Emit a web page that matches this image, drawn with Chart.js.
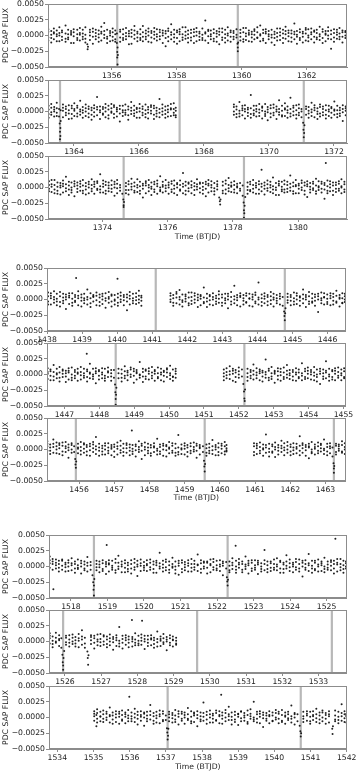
<!DOCTYPE html>
<html>
<head>
<meta charset="utf-8">
<script src="https://cdn.jsdelivr.net/npm/chart.js@4.4.0/dist/chart.umd.min.js"></script>
<style>
  body { margin: 0; background: #fff; width: 357px; height: 771px; position: relative; overflow: hidden; font-family: "DejaVu Sans", sans-serif; }
  canvas { position: absolute; left: 0; }
  .xlab { position: absolute; font-size: 7.7px; line-height: 10px; color: #222; white-space: nowrap; transform: translateX(-50%); }
</style>
</head>
<body>
<script>
// each row: [days after base BTJD, flux readings in ppt (1e-3) taken around that time...]
const base1 = 1354;
const cols1 = [[0.05,0.6,-0.3,1.0,-0.8],[0.14,-0.4,0.7,0.1,-1.1],[0.22,1.1,-0.6,0.3,0.5],[0.31,0.2,-0.9,0.8,-0.1],[0.39,-0.9,0.4,1.3,0.0],[0.47,0.8,-0.2,-0.7,0.5],[0.58,1.6,0.3,-0.5,-1.0],[0.66,-0.3,0.9,0.2,-0.6],[0.75,0.4,-1.2,0.7,0.1],[0.83,-1.2,0.5,-0.1,1.0],[0.94,0.9,-0.4,0.2,-0.7],
  [1.02,0.1,1.2,-0.8,0.4],[1.11,-0.6,0.3,0.9,-0.2],[1.19,1.3,-0.5,0.1,-1.1],[1.25,-1.4],[1.26,-2.2],[1.27,-1.8],[1.33,0.5,-0.7,0.9,0.0],[1.42,-0.2,0.6,-1.3,1.1],[1.51,0.9,-0.1,0.4,-0.6],[1.6,-1.0,0.2,0.8,-0.3],[1.68,0.3,-0.8,1.4,0.6],[1.77,2.0,-0.4,0.1,0.7],[1.86,-0.5,0.9,-0.2,-1.2],[1.95,0.7,0.0,-0.9,0.4],
  [2.03,-0.8,0.5,1.1,-0.2],[2.11,0.2,-0.6,0.8,-1.0],[2.16,-1.2,0.3],[2.17,-2.6],[2.17,-3.5],[2.18,-4.6],[2.18,-1.9],[2.19,-3.1],[2.26,0.6,-0.3,-1.0,0.9],[2.35,-0.4,1.0,0.2,-0.7],[2.44,1.2,-0.1,-0.6,0.4],[2.53,-0.1,0.7,-1.4,0.3],[2.61,-1.3,0.4,0.9,-0.2],[2.7,0.8,-0.5,0.1,1.5],[2.79,0.3,-0.9,0.6,-0.3],[2.88,-0.7,0.2,1.0,-0.4],[2.96,1.5,-0.2,0.5,-0.9],
  [3.05,-0.2,0.8,-0.6,0.3],[3.13,0.6,-1.0,0.0,1.1],[3.22,-1.1,0.4,0.7,-0.3],[3.31,0.1,-0.5,1.2,0.6],[3.39,1.0,-0.8,0.2,-0.2],[3.48,-0.6,0.5,-0.1,0.9],[3.57,0.4,-1.2,0.8,0.0],[3.66,-1.7,0.3,-0.4,0.7],[3.74,0.7,-0.2,1.1,-0.9],[3.83,1.8,0.1,-0.6,0.5],[3.92,-0.3,0.9,-1.0,0.2],
  [4.01,0.5,-0.4,0.8,-1.3],[4.09,-0.9,0.6,0.2,1.0],[4.18,0.2,-0.7,1.3,-0.3],[4.27,1.3,0.0,-0.5,0.6],[4.35,-0.4,0.8,-1.1,0.2],[4.44,0.9,-0.3,0.4,-0.8],[4.53,-1.2,0.5,1.0,-0.1],[4.61,0.0,-0.9,0.6,1.2],[4.7,0.6,-0.2,-0.7,0.3],[4.79,-0.7,1.1,0.1,-0.4],[4.88,2.4,0.3,-0.8,0.5],[4.97,-0.1,0.7,-1.2,0.9],
  [5.05,0.8,-0.6,0.2,-0.1],[5.14,-0.5,1.0,0.4,-0.9],[5.23,0.3,-0.2,-1.0,0.7],[5.31,-1.4,0.6,0.1,1.1],[5.4,1.1,-0.7,0.5,-0.3],[5.49,0.2,-0.4,0.9,-1.1],[5.57,-0.8,0.3,1.3,0.0],[5.66,0.5,-1.0,-0.2,0.8],[5.75,-0.2,0.7,0.4,-0.6],[5.84,1.0,-0.3,0.1],[5.87,-1.3],[5.88,-2.5],[5.88,-1.9],[5.89,-1.1],[5.96,0.4,-0.8,0.9,-0.2],
  [6.05,-0.6,0.5,1.2,-1.0],[6.13,1.2,-0.1,0.3,-0.7],[6.22,0.1,0.8,-0.9,0.4],[6.31,-1.0,0.2,0.6,-0.3],[6.39,0.7,-0.6,1.0,0.1],[6.48,-0.3,1.3,-0.4,0.5],[6.57,1.6,-0.9,0.2,0.0],[6.66,-0.8,0.4,0.9,-0.5],[6.74,0.3,-1.2,0.6,1.0],[6.83,-0.1,0.7,-0.6,0.2],[6.92,0.9,-0.3,0.1,-1.1],
  [7.01,-1.5,0.6,0.2,-0.4],[7.09,0.4,-0.2,1.1,-0.8],[7.18,1.1,0.0,-0.7,0.5],[7.27,-0.4,0.9,0.3,-1.2],[7.35,0.2,-0.5,1.4,0.7],[7.44,-0.9,0.4,-0.1,0.8],[7.53,0.8,-1.0,0.3,-0.3],[7.62,1.9,0.2,-0.6,0.6],[7.7,-0.2,0.7,-1.3,0.1],[7.79,0.5,-0.4,1.0,-0.7],[7.88,-1.1,0.3,0.6,-0.2],[7.97,0.3,-0.8,1.2,0.9],
  [8.05,1.0,-0.3,0.0,-0.9],[8.14,-0.6,0.5,1.1,0.2],[8.23,0.6,-1.1,-0.2,0.8],[8.31,-0.3,0.4,0.9,-0.6],[8.4,1.4,-0.7,0.2,-0.1],[8.49,-1.2,0.6,-0.4,1.0],[8.58,0.1,-0.9,0.7,0.3],[8.66,0.7,0.0,-0.5,1.3],[8.75,-2.1,0.8,0.2,-0.6],[8.84,0.4,-0.3,1.0,-1.0],[8.93,-0.5,0.9,0.1,0.5],[9.01,1.2,-0.6,0.3,-0.2],[9.1,-0.2,0.5,-1.1,0.8],[9.19,0.5,-0.4,0.7,0.0]];

const base2 = 1363;
const cols2 = [[0.22,0.9,-0.4,0.3,-1.0],[0.3,-0.5,0.6,1.2,-0.1],[0.39,0.3,-0.8,0.7,0.0],[0.47,1.4,-0.2,0.5,-0.7],[0.54,-0.8,0.4],[0.56,-1.9],[0.57,-3.2],[0.57,-4.4],[0.58,-2.6],[0.58,-3.9],[0.59,-1.5,0.2],[0.66,0.6,-0.9,0.1,1.1],[0.75,-0.2,0.8,-0.6,0.4],[0.84,1.0,-0.3,-1.2,0.2],[0.93,-1.1,0.5,0.9,-0.4],
  [1.01,0.4,-0.7,1.3,0.1],[1.1,-0.3,0.9,-0.8,0.6],[1.19,1.7,0.0,-0.5,0.3],[1.27,0.2,-1.0,0.7,-0.2],[1.36,-0.7,0.5,1.1,0.0],[1.45,0.8,-0.3,-0.9,0.4],[1.54,-1.3,0.6,0.2,-0.5],[1.62,0.5,-0.1,1.0,-0.8],[1.71,2.3,0.3,-0.6,0.7],[1.8,-0.1,0.8,-1.2,0.2],[1.89,0.7,-0.5,0.4,-0.3],[1.97,-0.9,1.2,0.0,0.6],
  [2.06,0.3,-0.6,0.9,-1.1],[2.15,1.2,-0.2,0.5,0.0],[2.23,-0.4,0.7,-1.0,1.0],[2.32,0.0,-0.8,0.6,0.3],[2.41,-1.6,0.4,-0.3,0.9],[2.5,0.9,-0.1,0.2,-0.7],[2.58,0.2,1.1,-0.5,-0.2],[2.67,-0.6,0.3,0.8,-1.3],[2.76,1.5,-0.4,0.1,0.6],[2.85,-0.3,0.9,-0.7,0.2],[2.93,0.6,-1.0,0.4,-0.1],
  [3.02,-1.0,0.5,1.2,0.0],[3.11,0.4,-0.6,-0.2,0.8],[3.2,1.1,0.2,-0.9,-0.4],[3.28,-0.2,0.7,0.3,-1.1],[3.37,0.7,-0.3,1.0,0.1],[3.46,-1.2,0.5,-0.5,0.9],[3.54,0.1,-0.8,0.6,-0.3],[3.63,2.0,0.4,-0.2,-0.9],[3.72,-0.5,1.1,0.0,0.5],[3.81,0.8,-0.4,-1.0,0.2],[3.89,-0.8,0.3,0.9,-0.1],[3.98,0.3,-0.7,0.5,1.2],[4.07,1.3,-0.2,-0.6,0.4],[4.13,-0.6,0.6,0.1,-0.9],
  [5.92,0.7,-0.5,1.1,0.0],[6.0,-0.4,0.8,-0.9,0.3],[6.09,1.5,0.1,-0.3,-0.8],[6.18,0.2,-0.6,0.9,0.5],[6.26,-1.1,0.4,0.0,1.0],[6.35,0.6,-0.2,-0.7,0.3],[6.44,2.6,0.5,-0.4,-1.0],[6.53,-0.3,0.9,0.2,-0.6],[6.61,0.9,-0.8,0.4,0.0],[6.7,-0.7,0.3,1.2,-0.2],[6.79,0.1,-1.1,0.6,0.8],[6.88,1.2,-0.4,0.0,-0.7],[6.96,-1.4,0.7,0.3,-0.1],
  [7.05,0.5,-0.3,1.0,-0.9],[7.14,-0.2,0.6,-0.6,1.1],[7.23,0.8,0.0,-1.2,0.3],[7.31,1.8,-0.5,0.4,-0.1],[7.4,-0.6,0.9,0.1,-0.8],[7.49,0.3,-0.7,1.3,0.5],[7.57,-1.0,0.2,-0.2,0.8],[7.66,2.2,0.4,-0.8,-0.3],[7.75,0.0,-0.6,0.9,0.6],[7.84,-0.5,1.0,-1.1,0.2],[7.92,1.1,-0.2,0.5,-0.6],[8.0,-0.9,0.4,0.0],[8.05,-1.8],[8.06,-2.9],[8.07,-4.1],[8.07,-5.0],[8.08,-3.4],[8.09,-2.2],[8.14,0.4,-0.5,0.8],
  [8.22,-0.3,0.7,-1.0,0.1],[8.31,1.4,-0.1,0.3,-0.7],[8.4,0.2,-0.9,0.6,1.0],[8.49,-1.2,0.5,0.0,-0.4],[8.57,0.7,-0.3,1.1,-0.8],[8.66,-0.1,0.8,-0.6,0.4],[8.75,1.0,-0.5,0.2,-1.1],[8.84,-0.7,0.3,0.9,0.0],[8.92,0.5,-1.0,-0.2,0.7],[9.01,1.6,0.1,-0.5,0.3],[9.1,-0.4,0.9,-0.9,0.2],[9.18,0.2,-0.3,0.6,-0.7],[9.27,-1.5,0.4,1.0,-0.1],[9.36,0.8,-0.6,0.1,0.5]];

const base3 = 1372;
const cols3 = [[0.36,0.4,-0.6,1.0,-0.2],[0.44,-0.7,0.5,0.1,1.2],[0.53,1.2,-0.3,-0.9,0.4],[0.62,0.1,0.8,-0.5,-1.0],[0.71,-1.1,0.3,0.7,0.0],[0.79,0.6,-0.8,0.2,1.1],[0.88,1.7,-0.1,0.5,-0.6],[0.97,-0.3,0.9,-1.2,0.3],
  [1.05,0.8,-0.4,0.0,-0.8],[1.14,-1.4,0.6,1.0,0.2],[1.23,0.3,-0.7,0.8,-0.2],[1.32,1.0,0.1,-0.5,0.6],[1.4,-0.5,1.2,-0.9,0.3],[1.49,0.2,-0.3,0.7,-1.1],[1.58,-0.9,0.5,0.0,0.9],[1.67,1.3,-0.6,0.4,-0.2],[1.75,0.5,-1.0,0.9,0.1],[1.84,-0.2,0.7,-0.4,1.0],[1.93,2.1,0.2,-0.8,-0.3],
  [2.02,-0.8,0.6,0.1,1.1],[2.1,0.4,-0.5,0.9,-1.0],[2.19,-0.1,0.8,-0.6,0.3],[2.28,1.1,-0.2,0.4,-0.7],[2.37,-1.3,0.5,0.0,0.9],[2.45,0.6,-0.9,1.2,-0.1],[2.54,0.0,0.4,-0.5],[2.61,-1.0],[2.64,-1.9],[2.65,-2.8],[2.65,-3.1],[2.66,-2.3],[2.72,0.7,-0.4,0.2,-0.9],[2.8,-0.4,1.0,-1.1,0.5],[2.89,1.4,0.1,-0.3,0.6],[2.98,0.2,-0.8,0.8,-0.5],
  [3.07,-0.7,0.4,1.3,0.0],[3.15,0.9,-0.5,0.2,-1.0],[3.24,-1.6,0.3,0.6,-0.2],[3.33,0.3,-0.9,1.0,0.7],[3.42,1.2,0.0,-0.6,0.4],[3.5,-0.2,0.8,-1.2,0.1],[3.59,0.5,-0.3,0.9,-0.7],[3.68,-1.0,0.6,0.2,1.1],[3.77,1.8,-0.4,0.0,-0.6],[3.85,0.1,0.9,-0.8,0.4],[3.94,-0.6,0.3,1.2,-0.1],
  [4.03,0.8,-1.0,0.4,0.0],[4.12,-0.3,0.6,-0.7,1.0],[4.2,1.1,-0.2,0.3,-0.9],[4.29,-1.2,0.7,0.0,0.5],[4.38,0.4,-0.5,1.1,-0.3],[4.47,2.3,0.1,-0.9,0.6],[4.55,-0.5,0.9,0.3,-1.1],[4.64,0.6,-0.6,-0.1,0.8],[4.73,-0.9,0.4,1.0,0.0],[4.82,0.2,-1.2,0.7,-0.4],[4.9,1.3,-0.3,0.5,0.1],[4.99,-0.1,0.8,-0.8,0.6],
  [5.08,0.7,-0.4,0.1,-1.0],[5.17,-1.4,0.5,0.9,-0.2],[5.25,0.3,-0.8,1.2,0.6],[5.34,1.0,0.0,-0.6,0.4],[5.43,-0.6,0.7,-0.1,-1.1],[5.52,0.5,-0.3,1.0,0.2],[5.58,-1.6],[5.6,-2.2],[5.61,-2.7],[5.62,-1.9],[5.69,0.9,-0.5,0.3,-0.9],[5.78,-0.3,0.6,-1.0,1.1],[5.87,1.5,-0.1,0.4,-0.6],[5.95,0.1,0.8,-0.7,0.3],
  [6.04,-0.8,0.4,1.0,-0.3],[6.13,0.6,-0.9,0.2,0.0],[6.22,-0.2,0.7,-0.5],[6.3,-1.3,0.3],[6.33,-2.4],[6.34,-3.6],[6.34,-4.8],[6.35,-4.1],[6.36,-2.9],[6.38,-1.5],[6.45,0.8,-0.4,0.1,-1.0],[6.53,-0.4,0.9,0.5,-0.6],[6.62,1.2,-0.2,-0.8,0.4],[6.71,0.3,-1.0,0.7,0.0],[6.8,-1.0,0.5,-0.3,1.0],[6.88,2.8,0.1,-0.6,0.6],[6.97,-0.2,0.8,-1.1,0.3],
  [7.06,0.5,-0.5,1.1,-0.1],[7.15,-0.7,0.4,0.0,0.9],[7.23,1.6,-0.3,-0.9,0.2],[7.32,0.0,0.7,-0.4,-1.2],[7.41,-1.2,0.6,0.3,1.0],[7.5,0.9,-0.6,0.1,-0.3],[7.58,-0.3,1.1,-0.8,0.5],[7.67,0.4,-0.2,0.9,-0.7],[7.76,1.9,0.0,-0.5,0.6],[7.85,-0.6,0.8,0.2,-1.0],[7.93,0.2,-0.9,1.2,0.4],
  [8.02,-0.9,0.3,0.6,-0.2],[8.11,1.1,-0.4,0.0,0.7],[8.2,0.3,-1.1,0.8,-0.5],[8.28,-1.5,0.5,0.2,1.0],[8.37,0.7,-0.3,-0.8,0.1],[8.46,-0.1,0.9,-0.4,0.6],[8.55,1.4,-0.6,0.3,-1.0],[8.63,-0.4,0.2,1.0,0.0],[8.72,0.6,-0.8,-0.2,0.9],[8.81,-1.8,0.4,0.7,-0.3],[8.85,3.9],[8.9,0.2,-0.5,1.1,-0.9],[8.98,1.0,0.0,-0.6,0.5],[9.07,-0.5,0.8,0.3,-1.2],[9.16,0.8,-0.2,-0.7,0.4],[9.25,-0.2,0.6,1.0,-0.5],[9.33,1.3,-0.9,0.2,0.0],[9.42,-0.7,0.5,0.9,-0.3]];

const base4 = 1438;
const cols4 = [[0.03,0.5,-0.3,1.1,-0.8],[0.11,-0.8,0.6,0.2,1.0],[0.2,1.3,-0.5,0.0,0.4],[0.28,0.1,0.9,-0.9,-0.3],[0.37,-0.4,0.5,1.2,-1.1],[0.46,0.9,-0.2,0.3,-0.6],[0.54,-1.5,0.4,0.8,0.0],[0.63,0.3,-0.7,1.0,0.6],[0.72,1.0,0.1,-0.5,-1.0],[0.8,-0.2,0.7,0.4,-0.4],[0.83,3.4],[0.89,0.6,-0.9,1.3,0.2],[0.98,-1.1,0.3,-0.2,0.8],
  [1.06,0.2,-0.6,0.9,-0.1],[1.15,1.6,0.4,-0.8,0.0],[1.24,-0.6,1.0,0.2,-1.2],[1.32,0.4,-0.3,0.7,0.5],[1.41,-0.9,0.6,-0.1,1.1],[1.5,0.8,-1.0,0.3,-0.4],[1.58,0.0,0.5,-0.7,0.9],[1.67,-1.3,0.2,1.0,-0.2],[1.76,1.2,-0.5,0.4,0.1],[1.84,-0.3,0.8,-1.1,0.6],[1.93,0.7,-0.2,0.0,-0.8],
  [2.01,3.3],[2.02,-0.5,0.9,0.3,-1.0],[2.1,1.1,-0.4,0.6,0.0],[2.19,-0.1,0.7,-0.9,0.4],[2.28,-1.7,0.3,0.8,-0.3],[2.36,0.6,-0.8,1.2,0.1],[2.45,0.2,-0.2,-0.6,0.9],[2.54,-0.7,1.0,0.4,-0.1],[2.62,1.4,-0.5,0.0,0.6],[2.69,-0.2,0.6,-1.0,0.3],
  [3.52,0.6,-0.4,1.0,0.0],[3.6,-1.0,0.7,0.2,-0.5],[3.69,0.3,-0.6,0.9,1.2],[3.78,1.5,0.0,-0.8,0.4],[3.86,-0.4,0.8,-0.1,-1.1],[3.95,0.8,-0.3,0.5,0.1],
  [4.04,-0.6,1.1,-0.9,0.3],[4.12,1.1,-0.2,0.4,-0.7],[4.21,0.0,0.6,-0.5,1.0],[4.3,-1.2,0.3,0.8,-0.1],[4.38,0.5,-0.9,0.1,0.7],[4.47,1.9,-0.4,0.3,-0.6],[4.56,-0.3,0.9,-1.2,0.2],[4.64,0.7,-0.1,0.5,-0.8],[4.73,-0.9,0.4,1.0,0.0],[4.82,0.2,-0.7,0.6,-0.3],[4.9,1.3,0.1,-0.5,0.8],[4.99,-0.5,0.8,-1.0,0.3],
  [5.08,0.9,-0.6,0.2,-0.1],[5.16,-1.4,0.5,0.9,0.0],[5.25,0.4,-0.3,1.2,-0.8],[5.34,2.2,0.0,-0.6,0.5],[5.42,-0.1,0.7,-0.9,0.3],[5.51,0.6,-1.1,0.4,1.0],[5.6,-0.8,0.2,-0.2,0.7],[5.68,1.0,-0.5,0.6,-0.4],[5.77,0.1,0.9,-1.0,0.2],[5.86,-1.1,0.4,0.0,0.8],[5.94,0.7,-0.3,1.1,-0.6],
  [6.03,2.7,0.3,-0.8,0.0],[6.12,-0.4,0.8,0.2,-1.0],[6.2,0.5,-0.6,1.0,0.1],[6.29,-0.9,0.4,-0.3,0.7],[6.38,1.2,-0.1,0.5,-0.7],[6.46,0.0,0.9,-1.1,0.3],[6.55,-0.6,0.2,0.7,-0.2],[6.64,0.9,-0.8,0.1,0.5],[6.72,-1.0,0.4],[6.76,-1.9],[6.77,-2.6],[6.78,-3.3],[6.79,-2.2],[6.8,-1.4],[6.86,0.4,-0.5,0.9,-0.1],[6.95,-0.2,0.7,-0.9,0.4],
  [7.04,1.1,-0.3,0.2,-0.8],[7.12,-0.7,0.6,1.0,0.0],[7.21,0.3,-1.0,0.5,-0.2],[7.3,1.6,0.1,-0.6,0.8],[7.38,-1.2,0.4,0.0,0.7],[7.47,0.5,-0.7,1.2,-0.3],[7.56,-0.3,0.9,-0.5,0.2],[7.64,0.8,-0.2,0.4,-1.0],[7.73,-2.0,0.5,0.9,0.0],[7.82,0.2,-0.6,-0.1,1.1],[7.9,1.0,0.3,-0.8,0.4],[7.99,-0.4,0.8,0.1,-0.7],
  [8.08,0.6,-0.9,1.0,0.2],[8.16,-0.8,0.4,-0.2,0.9],[8.25,1.4,-0.3,0.6,-0.5],[8.34,0.1,0.7,-1.1,0.3],[8.42,-0.5,1.0,0.2,-0.6],[8.49,0.9,-0.4,0.5,0.0]];

const base5 = 1446;
const cols5 = [[0.52,0.4,-0.7,1.0,0.1],[0.6,-0.9,0.5,-0.2,0.8],[0.69,1.5,-0.3,0.4,-0.9],[0.78,0.2,0.9,-0.6,0.0],[0.86,-0.5,0.3,1.2,-1.1],[0.95,0.8,-0.4,0.1,0.6],
  [1.04,-1.2,0.6,0.2,-0.3],[1.12,0.6,-0.8,1.0,0.3],[1.21,1.1,0.0,-0.5,-0.9],[1.3,-0.2,0.7,0.4,-0.6],[1.38,0.3,-1.0,0.9,0.1],[1.47,-0.8,0.4,-0.1,1.2],[1.56,0.9,-0.5,0.2,-0.2],[1.64,3.3],[1.65,-0.4,0.8,-1.1,0.5],[1.73,1.7,0.1,-0.6,0.3],[1.82,0.0,-0.7,0.9,-0.3],[1.9,-1.4,0.5,0.2,1.0],[1.99,0.5,-0.2,-0.8,0.7],
  [2.08,1.0,-0.6,0.3,0.0],[2.16,-0.6,0.9,-0.2,-1.0],[2.25,0.3,-0.4,1.1,0.5],[2.34,-1.0,0.2,0.7,-0.3],[2.42,0.7,-0.5],[2.45,-1.6],[2.46,-2.8],[2.47,-3.9],[2.47,-4.8],[2.48,-3.2],[2.49,-2.1],[2.55,0.2,-0.6,0.9],[2.64,-0.5,0.8,0.1,-1.1],[2.73,1.3,-0.2,0.5,-0.6],[2.81,-0.1,0.6,-0.9,0.3],[2.9,0.8,-0.4,0.0,1.1],[2.99,-1.3,0.5,0.9,-0.2],
  [3.07,0.4,-0.8,0.2,0.7],[3.16,2.0,0.0,-0.5,-0.1],[3.25,-0.3,0.9,-1.2,0.4],[3.33,0.6,-0.3,0.8,-0.7],[3.42,-0.8,0.5,0.1,1.0],[3.51,1.2,-0.6,0.3,-0.2],[3.59,0.1,0.7,-1.0,0.5],[3.68,-0.6,0.2,1.1,-0.4],[3.77,0.9,-0.9,0.0,0.3],[3.85,-1.1,0.6,0.4,-0.2],[3.94,0.3,-0.4,1.0,0.8],[4.03,1.4,-0.1,-0.7,0.2],[4.11,-0.4,0.8,-0.3,-1.0],[4.19,0.5,-0.5,0.9,0.1],
  [5.57,0.8,-0.3,0.2,-0.9],[5.65,-0.6,1.0,0.4,-0.1],[5.74,1.3,-0.7,0.0,0.5],[5.83,0.1,0.6,-1.0,0.9],[5.91,-1.2,0.3,0.7,-0.4],[6.0,0.5,-0.5,1.1,0.0],[6.09,-0.3,0.8],[6.13,-1.5],[6.15,-2.7],[6.16,-3.8],[6.16,-5.0],[6.17,-4.2],[6.18,-2.4],[6.25,0.9,-0.4,0.2,-1.0],[6.34,-0.2,0.7,-0.6,0.4],[6.42,1.6,0.0,-0.8,0.6],
  [6.51,0.3,-0.6,1.0,-0.1],[6.6,-0.9,0.5,0.2,0.8],[6.68,0.6,-1.1,-0.3,0.3],[6.77,2.4,0.4,-0.5,0.0],[6.86,-0.5,0.9,-0.9,0.6],[6.94,0.2,-0.3,1.2,-0.7],[7.03,-1.3,0.6,0.1,0.4],[7.12,1.0,-0.8,0.5,-0.2],[7.2,0.4,-0.1,-1.0,0.9],[7.29,-0.7,1.1,0.3,-0.4],[7.38,1.5,-0.5,0.0,0.6],[7.46,-0.1,0.7,-0.7,0.2],[7.55,0.7,-0.9,0.4,-0.3],[7.64,-1.0,0.3,1.0,0.0],[7.72,0.3,-0.4,-0.6,0.8],[7.81,1.8,0.2,-0.2,-0.9],[7.9,-0.4,0.9,0.5,-0.7],[7.98,0.6,-0.6,1.1,0.1],
  [8.07,-0.8,0.4,0.0,0.7],[8.16,1.2,-0.2,-0.9,0.3],[8.24,0.0,0.8,-0.4,-1.1],[8.33,-1.5,0.5,0.9,0.1],[8.42,0.8,-0.7,0.2,-0.3],[8.5,2.1,0.3,-0.6,0.6],[8.59,-0.3,0.9,-1.0,0.0],[8.68,0.5,-0.4,0.7,-0.8],[8.76,-0.9,0.6,0.1,1.0],[8.85,1.1,-0.2,-0.5,0.4],[8.94,0.2,-0.9,0.8,-0.1],[9.02,-0.6,0.5,1.0,-0.4]];

const base6 = 1455;
const cols6 = [[0.1,0.9,-0.2,0.5,1.3],[0.18,-0.2,0.8,0.3,-0.7],[0.27,1.6,0.4,-0.5,0.9],[0.36,0.5,-0.6,1.1,0.0],[0.44,-0.7,0.7,0.2,1.0],[0.53,1.1,-0.3,0.6,-0.9],[0.62,0.2,1.2,-0.4,0.5],[0.7,-1.3,0.3,0.8,-0.1],[0.79,0.7,-0.5,0.0,1.0],[0.86,-0.4,0.5],[0.89,-1.5],[0.9,-2.4],[0.91,-2.9],[0.92,-1.9],[0.97,0.3,-0.6,0.9,0.1],
  [1.05,1.2,-0.2,0.4,-0.8],[1.14,-0.5,0.8,0.1,1.0],[1.22,0.4,-0.9,0.7,-0.3],[1.31,-1.0,0.5,-0.1,0.9],[1.4,0.8,-0.4,1.2,0.2],[1.48,2.0,0.0,-0.7,0.5],[1.57,-0.2,0.9,-1.0,0.3],[1.66,0.6,-0.3,0.2,-0.8],[1.74,-0.8,0.6,1.0,0.0],[1.83,1.0,-0.6,0.3,-0.2],[1.92,0.1,0.7,-0.9,0.4],
  [2.0,-1.2,0.4,0.8,-0.3],[2.09,0.5,-0.8,1.1,0.1],[2.18,1.4,-0.1,-0.5,0.6],[2.26,-0.4,0.9,0.2,-1.0],[2.35,0.2,-0.5,0.7,1.0],[2.44,-0.9,0.3,-0.2,0.8],[2.5,3.0],[2.52,0.7,-0.7,0.1,-0.3],[2.61,-0.1,0.8,-1.1,0.5],[2.7,1.3,-0.4,0.4,0.0],[2.78,-1.5,0.6,0.9,-0.2],[2.87,0.4,-0.9,0.0,1.1],[2.96,0.9,-0.2,-0.6,0.3],
  [3.04,-0.6,0.7,0.3,-1.0],[3.13,0.3,-0.4,1.0,0.5],[3.22,1.7,0.1,-0.8,-0.2],[3.3,-0.3,0.8,0.4,-0.7],[3.39,0.6,-1.0,0.0,0.9],[3.48,-1.1,0.5,0.7,-0.1],[3.56,0.1,-0.6,1.2,0.3],[3.65,1.0,-0.2,-0.5,0.6],[3.74,-0.5,0.9,-1.0,0.2],[3.82,2.3,0.3,-0.4,-0.8],[3.91,0.2,-0.7,0.8,0.0],
  [4.0,-0.8,0.6,0.1,1.0],[4.08,0.7,-0.4,-1.1,0.3],[4.17,-0.2,1.0,0.5,-0.6],[4.26,1.1,-0.3,0.0,0.4],[4.34,-1.3,0.6,0.9,-0.2],[4.43,0.4,-0.8,0.2,0.7],[4.52,-0.4,0.5],[4.55,-1.8],[4.56,-2.7],[4.57,-3.5],[4.58,-2.3],[4.62,0.8,-0.5,0.2,-1.0],[4.7,-0.6,0.9,0.3,-0.2],[4.79,1.5,-0.1,-0.7,0.5],[4.88,0.0,0.7,-0.9,0.4],[4.96,-0.9,0.3,1.0,-0.4],
  [5.05,0.6,-0.6,0.1,0.9],[5.14,1.2,-0.3,0.5,-0.8],[5.19,-0.3,0.7,-0.1,0.2],
  [5.97,0.5,-0.4,1.0,-0.9],[6.05,-0.7,0.6,0.2,0.9],[6.14,1.1,-0.2,-0.6,0.4],[6.23,0.2,0.8,-1.0,0.0],[6.31,2.4,-0.5,0.3,0.7],[6.4,-0.4,0.9,0.1,-1.1],[6.49,0.8,-0.3,0.5,-0.5],[6.57,-1.2,0.4,1.1,0.0],[6.66,0.3,-0.8,0.7,-0.2],[6.75,1.4,0.2,-0.4,0.6],[6.83,-0.1,1.0,-0.9,0.3],[6.92,0.6,-0.5,0.0,1.2],
  [7.01,-0.9,0.4,0.8,-0.3],[7.09,1.0,-0.1,0.3,-0.7],[7.18,0.4,0.9,-0.6,0.1],[7.27,2.1,-0.2,0.6,-0.9],[7.35,-0.5,0.7,0.2,1.0],[7.44,0.7,-1.0,0.4,-0.1],[7.53,-1.4,0.3,0.9,0.5],[7.61,1.2,-0.4,0.0,-0.6],[7.7,0.1,0.8,-0.8,0.4],[7.79,-0.6,0.5,1.1,-0.2],[7.87,0.9,-0.3,0.2,0.7],[7.96,1.6,0.1,-0.7,-0.1],
  [8.05,-0.3,0.9,0.4,-0.9],[8.13,0.5,-0.6,1.0,0.2],[8.2,-1.1,0.3],[8.23,-2.2],[8.24,-3.0],[8.24,-3.7],[8.25,-2.6],[8.3,0.6,-0.4,0.9,-0.8],[8.38,-0.2,0.8,0.1,0.5],[8.47,1.3,-0.5,-0.3,0.7],[8.55,-0.7,0.4,1.0,0.0]];

const base7 = 1517;
const cols7 = [[0.42,1.6,0.5,-0.2,1.0],[0.5,0.4,1.2,-0.5,0.8],[0.52,-3.6],[0.59,1.1,-0.3,0.6,0.2],[0.67,-0.2,0.9,0.4,-0.8],[0.76,0.9,-0.5,0.1,1.1],[0.85,-0.8,0.6,-0.1,0.3],[0.93,0.6,-0.7,1.0,0.0],
  [1.02,1.3,0.2,-0.6,0.5],[1.11,-0.3,0.8,-1.0,0.4],[1.19,0.2,-0.4,1.1,-0.2],[1.28,-1.1,0.5,0.0,0.9],[1.37,0.8,-0.6,0.3,-0.3],[1.45,1.5,0.1,-0.8,0.6],[1.54,-0.5,0.7,0.2],[1.59,-1.4],[1.61,-2.5],[1.62,-3.7],[1.63,-4.6],[1.63,-3.0],[1.64,-2.0],[1.7,0.4,-0.6,0.9,-0.1],[1.78,-0.1,0.8,-0.9,0.3],[1.87,1.0,-0.4,0.5,-0.7],[1.96,-1.2,0.4,0.7,0.0],[1.98,3.4],
  [2.04,0.3,-0.8,1.0,0.5],[2.13,0.9,-0.2,-0.5,0.1],[2.22,-0.6,0.6,1.2,-1.0],[2.3,1.7,0.0,-0.4,0.6],[2.39,0.0,-0.9,0.8,0.3],[2.48,-0.9,0.5,-0.2,1.0],[2.56,0.6,-0.4,0.2,-0.8],[2.65,-0.3,1.0,-1.1,0.4],[2.74,1.2,-0.1,0.6,-0.5],[2.82,-1.5,0.3,0.9,0.0],[2.91,0.5,-0.7,0.1,1.1],[3.0,0.1,0.7,-0.6,-0.2],
  [3.08,-0.7,0.4,1.0,0.2],[3.17,1.1,-0.5,-0.1,0.6],[3.26,0.3,-1.0,0.8,-0.4],[3.34,-1.0,0.6,0.2,0.9],[3.43,2.2,-0.3,0.5,0.0],[3.52,-0.2,0.9,-0.8,0.3],[3.6,0.7,-0.6,1.1,-0.1],[3.69,-0.5,0.2,-1.0,0.8],[3.78,1.4,-0.2,0.4,0.0],[3.86,0.0,0.8,-0.5,-1.1],[3.95,-1.3,0.5,0.9,0.1],
  [4.04,0.6,-0.4,-0.9,1.0],[4.12,-0.1,0.7,0.3,-0.6],[4.21,1.0,-0.8,0.1,0.5],[4.3,-0.8,0.4,1.2,-0.2],[4.38,0.4,-0.5,-0.1,0.9],[4.47,1.9,0.2,-0.7,0.3],[4.56,-0.4,1.0,0.5,-1.0],[4.64,0.8,-0.3,0.0,0.6],[4.73,-1.1,0.6,0.8,-0.2],[4.82,0.2,-0.9,1.1,0.4],[4.9,1.2,-0.1,-0.5,0.7],[4.99,-0.6,0.9,0.2,-0.3],
  [5.08,0.3,-0.7,1.0,0.0],[5.16,-1.4,0.5,0.1,0.8],[5.25,0.7,-0.3],[5.27,-1.7],[5.28,-2.4],[5.29,-3.0],[5.3,-2.1],[5.34,0.1,-0.6,0.8,-0.9],[5.42,1.3,0.2,-0.4,0.6],[5.51,3.3],[5.52,-0.5,0.9,0.0,-1.0],[5.6,0.6,-0.2,1.2,0.3],[5.69,-0.9,0.4,-0.5,0.8],[5.78,1.6,-0.4,0.3,0.0],[5.86,0.2,0.9,-1.1,0.5],[5.95,-0.3,0.6,-0.7,1.0],
  [6.04,1.0,-0.5,0.2,-0.2],[6.12,-1.2,0.3,0.9,0.6],[6.21,0.5,-0.8,0.0,-0.4],[6.3,2.6,0.4,-0.6,1.0],[6.38,-0.4,0.8,0.2,-0.9],[6.47,0.8,-0.2,-0.7,0.5],[6.56,-0.2,1.1,0.4,-0.5],[6.64,1.3,-0.6,0.0,0.3],[6.73,-1.0,0.7,0.9,-0.3],[6.82,0.3,-0.4,-1.0,0.6],[6.9,1.8,0.1,-0.3,0.8],[6.99,-0.7,0.5,1.1,-0.1],
  [7.08,0.6,-0.9,0.3,0.0],[7.16,-0.1,0.7,-0.5,1.2],[7.25,1.1,-0.3,0.4,-0.8],[7.34,-1.6,0.6,0.0,0.9],[7.42,0.4,-0.5,1.0,-0.2],[7.51,2.0,0.2,-0.7,0.5],[7.6,-0.3,0.9,-1.0,0.1],[7.68,0.9,-0.4,0.6,-0.6],[7.77,-0.8,0.3,1.1,0.0],[7.86,0.2,-0.7,0.5,0.8],[7.94,1.4,0.0,-0.4,-0.9],
  [8.03,-0.5,0.8,0.3,-0.2],[8.12,0.7,-0.6,1.0,0.1],[8.2,-1.1,0.4,-0.3,0.9],[8.24,4.4],[8.29,0.3,-0.8,0.6,1.2],[8.38,1.2,-0.1,-0.6,0.4],[8.46,-0.4,0.9,0.2,-1.0],[8.53,0.8,-0.3,0.5,0.0]];

const base8 = 1525;
const cols8 = [[0.58,0.9,-0.3,0.5,1.3],[0.66,-0.4,0.8,0.1,-0.9],[0.75,1.4,-0.2,0.6,0.0],[0.84,0.2,-0.7,1.0,0.4],[0.9,-1.0,0.5],[0.93,-2.1],[0.94,-3.3],[0.95,-4.5],[0.95,-3.8],[0.96,-2.6],[0.98,-1.5],[1.03,0.6,-0.5,0.9,-0.1],[1.12,-0.2,1.0,0.3,-0.8],[1.21,1.1,-0.4,0.0,0.6],[1.29,-0.8,0.7,0.2,-0.3],[1.38,0.5,-0.9,1.2,0.1],[1.47,1.8,0.3,-0.5,0.8],[1.55,-0.3,0.6,-1.0],[1.62,-1.6],[1.63,-2.6],[1.64,-3.7],[1.65,-2.2],[1.72,0.7,-0.4,0.2,1.0],[1.81,-1.1,0.5,0.9,-0.2],[1.9,0.3,-0.6,1.1,0.0],[1.98,1.2,-0.1,0.4,-0.7],
  [2.07,-0.5,0.8,0.0,1.0],[2.16,0.8,-0.4,-0.9,0.3],[2.24,0.0,1.1,0.5,-0.6],[2.33,-1.3,0.4,0.7,-0.1],[2.42,1.0,-0.7,0.2,0.6],[2.5,2.3,0.1,-0.3,-0.8],[2.59,-0.2,0.9,0.4,-1.1],[2.68,0.6,-0.5,1.0,0.2],[2.76,-0.9,0.3,-0.2,0.8],[2.85,3.4],[2.86,0.4,-0.8,0.7,0.0],[2.94,1.3,-0.2,0.3,-0.6],
  [3.03,-0.6,0.9,0.1,-0.3],[3.11,0.1,-0.5,1.1,0.6],[3.13,3.3],[3.2,-1.2,0.4,0.0,0.9],[3.29,0.9,-0.7,0.3,-0.2],[3.38,0.3,1.0,-0.6,0.5],[3.46,-0.4,0.6,-1.0,0.2],[3.55,1.6,-0.1,0.4,-0.8],[3.64,-0.7,0.8,0.1,0.4],[3.72,0.5,-0.4,1.2,-0.1],[3.81,-1.4,0.3,0.7,0.0],[3.9,1.0,-0.6,-0.2,0.5],[3.98,0.2,0.8,-0.8,0.3],[4.07,-0.3,0.6,0.1,-0.5]];

const base9 = 1534;
const cols9 = [[1.02,0.6,-0.5,0.2,1.0],[1.08,-1.4,0.4],[1.1,1.3,-0.2,0.7,-0.8],[1.19,0.2,0.9,-0.6,0.1],[1.27,-0.7,0.5,1.1,-0.2],[1.36,0.9,-0.4,0.0,0.6],[1.45,1.6,0.2,-0.8,0.4],[1.53,-0.3,0.8,0.3,-1.0],[1.62,0.5,-0.7,1.0,0.0],[1.71,-1.0,0.6,0.1,0.9],[1.79,1.1,-0.3,-0.5,0.4],[1.88,0.1,0.8,-0.9,0.5],[1.96,-0.6,0.3,1.2,-0.1],[1.99,3.3],
  [2.05,0.8,-0.6,0.2,-0.2],[2.14,1.4,0.0,-0.7,0.6],[2.22,-0.2,0.9,0.4,-1.1],[2.31,0.4,-0.5,1.0,0.1],[2.4,-1.3,0.6,0.0,0.8],[2.48,0.9,-0.2,-0.6,0.3],[2.57,2.0,0.4,-0.3,1.0],[2.66,-0.5,0.7,-1.0,0.2],[2.74,0.3,-0.8,0.9,-0.1],[2.83,-0.9,0.5,0.2,1.1],[2.92,1.0,-0.4,0.6,-0.6],[3.0,-0.4,0.3],[3.03,-1.7],[3.04,-2.4],[3.05,-3.5],[3.06,-2.9],[3.07,-1.8],[3.09,0.5,-0.6,0.9,0.0],
  [3.18,-0.1,0.7,-0.8,0.4],[3.26,1.2,-0.3,0.3,-0.7],[3.35,-1.1,0.6,1.0,0.1],[3.44,0.6,-0.5,-0.2,0.9],[3.52,0.0,0.8,-1.0,0.4],[3.61,1.5,-0.2,0.5,-0.4],[3.7,-0.6,1.0,0.1,-0.9],[3.78,0.3,-0.7,0.8,0.6],[3.87,-1.4,0.4,-0.1,1.0],[3.96,0.8,-0.3,0.2,-0.6],
  [4.04,2.4,0.1,-0.5,0.7],[4.13,-0.3,0.9,0.4,-1.0],[4.22,0.5,-0.8,1.1,0.0],[4.3,-0.8,0.6,-0.2,0.3],[4.39,1.1,-0.4,0.7,-0.5],[4.48,0.2,1.0,-0.9,0.4],[4.53,3.6],[4.56,-1.0,0.3,0.8,-0.2],[4.65,0.7,-0.6,0.0,1.2],[4.74,1.7,0.2,-0.4,0.5],[4.82,-0.4,0.8,-1.1,0.1],[4.91,0.4,-0.3,0.9,-0.7],[5.0,-1.2,0.5,0.1,0.6],
  [5.08,0.9,-0.6,1.0,-0.1],[5.17,0.0,0.7,-0.5,0.3],[5.26,-0.7,0.4,1.1,-1.0],[5.34,1.3,-0.2,0.2,0.6],[5.43,2.5,0.0,-0.6,-0.3],[5.52,-0.2,0.9,0.5,-0.8],[5.6,0.6,-0.9,0.1,1.0],[5.69,-1.5,0.4,0.8,-0.1],[5.78,0.3,-0.5,-0.2,0.7],[5.86,1.0,0.2,-0.9,0.4],[5.95,-0.5,0.8,0.3,-0.6],
  [6.04,0.7,-0.3,1.2,0.0],[6.12,-0.9,0.6,-0.2,0.9],[6.21,1.2,-0.5,0.4,-0.7],[6.3,0.1,0.8,-1.0,0.3],[6.38,-0.4,0.5,0.9,-0.1],[6.47,1.9,-0.2,0.2,-0.8],[6.56,-1.1,0.7,0.0,0.5],[6.64,0.5,-0.6],[6.7,-1.3],[6.72,-2.2],[6.73,-3.0],[6.74,-2.5],[6.8,0.2,-0.7,0.9,-0.2],[6.9,1.0,0.3,-0.5,0.6],[6.99,-0.6,0.9,0.1,-1.0],
  [7.07,0.4,-0.4,1.0,0.2],[7.16,1.4,-0.1,-0.7,0.5],[7.25,-0.3,0.8,0.3,-0.9],[7.33,0.8,-0.6,0.0,1.1],[7.42,-1.0,0.4,0.7,-0.2],[7.51,0.2,-0.8,1.0,0.5],[7.6,-1.8],[7.61,-2.6],[7.62,-1.4],[7.68,1.1,-0.3,0.3,-0.6],[7.77,-0.4,0.9,-0.9,0.1],[7.86,2.1,0.2,-0.5,0.7],[7.94,0.5,-0.7,1.0,-0.1],[7.99,-0.8,0.6,0.2,0.4]];

// marked transit times (grey vertical lines)
const transits1 = [1356.17, 1359.88];
const transits2 = [1363.57, 1367.25, 1371.07];
const transits3 = [1374.65, 1378.34];
const transits4 = [1441.1, 1444.78];
const transits5 = [1448.47, 1452.16];
const transits6 = [1455.91, 1459.57, 1463.24];
const transits7 = [1518.63, 1522.29];
const transits8 = [1525.95, 1529.65, 1533.37];
const transits9 = [1537.05, 1540.73];

// x limits and tick labels
const xRange1 = [1354.04, 1363.24], xTicks1 = [1356, 1358, 1360, 1362];
const xRange2 = [1363.2, 1372.4],   xTicks2 = [1364, 1366, 1368, 1370, 1372];
const xRange3 = [1372.33, 1381.5],  xTicks3 = [1374, 1376, 1378, 1380];
const xRange4 = [1438.0, 1446.51],  xTicks4 = [1438, 1439, 1440, 1441, 1442, 1443, 1444, 1445, 1446];
const xRange5 = [1446.5, 1455.06],  xTicks5 = [1447, 1448, 1449, 1450, 1451, 1452, 1453, 1454, 1455];
const xRange6 = [1455.09, 1463.57], xTicks6 = [1456, 1457, 1458, 1459, 1460, 1461, 1462, 1463];
const xRange7 = [1517.4, 1525.55],  xTicks7 = [1518, 1519, 1520, 1521, 1522, 1523, 1524, 1525];
const xRange8 = [1525.56, 1533.78], xTicks8 = [1526, 1527, 1528, 1529, 1530, 1531, 1532, 1533];
const xRange9 = [1533.77, 1542.0],  xTicks9 = [1534, 1535, 1536, 1537, 1538, 1539, 1540, 1541, 1542];

const yTicks = [-0.005, -0.0025, 0, 0.0025, 0.005];
const yLabel = 'PDC SAP FLUX';
const xLabel = 'Time (BTJD)';

// page layout (pixels)
const panelTops = [4, 80, 156, 268, 343, 418, 535, 610, 686];
const panelH = 63;
const groupLeft = [48, 47, 49];
const groupRight = [347, 345.5, 346.7];
const xLabelY = [237, 498, 767];

const FONT = { family: 'DejaVu Sans', size: 7.7 };
const TXT = '#222';
const SPINE = '#8c8c8c';

const panels = [
  [base1, cols1, transits1, xRange1, xTicks1],
  [base2, cols2, transits2, xRange2, xTicks2],
  [base3, cols3, transits3, xRange3, xTicks3],
  [base4, cols4, transits4, xRange4, xTicks4],
  [base5, cols5, transits5, xRange5, xTicks5],
  [base6, cols6, transits6, xRange6, xTicks6],
  [base7, cols7, transits7, xRange7, xTicks7],
  [base8, cols8, transits8, xRange8, xTicks8],
  [base9, cols9, transits9, xRange9, xTicks9]
];

// draws the full box around the plot area, on top of the data
const framePlugin = {
  id: 'frame',
  afterDatasetsDraw(chart) {
    const a = chart.chartArea;
    const ctx = chart.ctx;
    ctx.save();
    ctx.strokeStyle = SPINE;
    ctx.lineWidth = 1;
    ctx.strokeRect(Math.round(a.left) + 0.5, Math.round(a.top) + 0.5, Math.round(a.right - a.left) - 1, Math.round(a.bottom - a.top) - 1);
    ctx.restore();
  }
};

function fmtY(v) {
  if (Math.abs(v) < 1e-9) return '0.0000';
  return (v < 0 ? '\u2212' : '') + Math.abs(v).toFixed(4);
}

function toPoints(base, cols) {
  const out = [];
  cols.forEach(c => {
    for (let k = 1; k < c.length; k++) out.push({ x: base + c[0], y: c[k] / 1000 });
  });
  return out;
}

function drawPanel(i) {
  const [base, cols, transits, xRange, xTicks] = panels[i];
  const g = Math.floor(i / 3);
  const padTop = 7, axisH = 18;
  const canvas = document.createElement('canvas');
  canvas.width = 357;
  canvas.height = panelH + padTop + axisH;
  canvas.style.top = (panelTops[i] - padTop) + 'px';
  document.body.appendChild(canvas);

  const datasets = [{
    data: toPoints(base, cols),
    pointRadius: 1.0,
    pointBorderWidth: 0,
    pointBackgroundColor: 'rgba(10,10,10,0.9)',
    showLine: false
  }];
  transits.forEach(t => {
    datasets.push({
      data: [{ x: t, y: -0.005 }, { x: t, y: 0.005 }],
      showLine: true,
      borderColor: '#b8b8b8',
      borderWidth: 2.2,
      pointRadius: 0
    });
  });

  new Chart(canvas, {
    type: 'scatter',
    data: { datasets },
    plugins: [framePlugin],
    options: {
      responsive: false,
      animation: false,
      devicePixelRatio: 1,
      layout: { padding: { top: padTop, right: 357 - groupRight[g], left: 0, bottom: 0 } },
      plugins: { legend: { display: false }, tooltip: { enabled: false } },
      scales: {
        x: {
          type: 'linear',
          min: xRange[0],
          max: xRange[1],
          afterBuildTicks: s => { s.ticks = xTicks.map(v => ({ value: v })); },
          afterFit: s => { s.height = axisH; s.paddingLeft = 0; s.paddingRight = 0; },
          ticks: { autoSkip: false, maxRotation: 0, padding: 1, color: TXT, font: FONT, callback: v => String(v) },
          grid: { drawOnChartArea: false, drawTicks: true, tickLength: 3, color: SPINE },
          border: { color: SPINE }
        },
        y: {
          min: -0.005,
          max: 0.005,
          afterBuildTicks: s => { s.ticks = yTicks.map(v => ({ value: v })); },
          afterFit: s => { s.width = groupLeft[g]; s.paddingTop = 0; s.paddingBottom = 0; },
          ticks: { padding: 1, color: TXT, font: FONT, callback: v => fmtY(v) },
          grid: { drawOnChartArea: false, drawTicks: true, tickLength: 3, color: SPINE },
          border: { color: SPINE },
          title: { display: true, text: yLabel, color: TXT, font: FONT, padding: { top: 1, bottom: 0 } }
        }
      }
    }
  });
}

for (let i = 0; i < panels.length; i++) drawPanel(i);

// shared x-axis label under each group of three panels
xLabelY.forEach((y, g) => {
  const d = document.createElement('div');
  d.className = 'xlab';
  d.textContent = xLabel;
  d.style.left = ((groupLeft[g] + groupRight[g]) / 2) + 'px';
  d.style.top = (y - 5) + 'px';
  document.body.appendChild(d);
});
</script>
</body>
</html>
